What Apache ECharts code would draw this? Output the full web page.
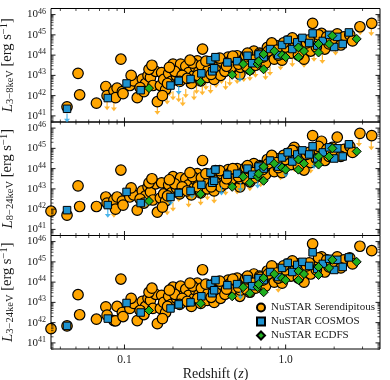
<!DOCTYPE html>
<html>
<head>
<meta charset="utf-8">
<script src="https://cdn.jsdelivr.net/npm/echarts@6/dist/echarts.min.js"></script>
<style>
  html, body { margin: 0; padding: 0; background: #fff; }
  #chart { width: 390px; height: 380px; }
</style>
</head>
<body>
<div id="chart"></div>
<script>
// ---- data (redshift, log10 luminosity per band) ----
const serZ = [0.035,0.044,0.0515,0.0527,0.067,0.0766,0.078,0.086,0.090,0.088,0.097,0.098,0.095,
  0.108,0.114,0.12,0.129,0.135,0.14,0.145,0.15,0.156,0.16,0.167,0.17,0.175,0.18,0.188,0.195,
  0.2,0.21,0.215,0.223,0.234,0.24,0.25,0.26,0.27,0.276,0.283,0.29,0.297,0.305,0.31,0.318,0.327,
  0.34,0.35,0.36,0.367,0.38,0.395,0.413,0.42,0.44,0.455,0.476,0.48,0.5,0.52,0.524,0.55,0.565,
  0.59,0.6,0.62,0.635,0.65,0.67,0.69,0.7,0.75,0.77,0.8,0.85,0.87,0.92,0.95,1.03,1.08,1.13,1.18,
  1.25,1.3,1.43,1.47,1.57,1.67,1.75,1.86,1.95,2.04,2.09,2.3,2.89,3.42,
  0.125,0.142,0.185,0.205,0.228,0.265,0.3,0.33,0.4,0.46,0.58,0.72,0.82,0.9,1.0,1.2,1.35,1.55,2.2,2.5,
  0.11,0.132,0.148,0.172,0.19,0.22,0.245,0.255,0.285,0.32,0.345,0.39,0.43,0.47,0.51,0.57,0.63,
  0.78,0.88,0.97,1.1,1.4,1.6,1.8,2.6];
const serL_3_8 = [null,41.45,43.1,42.04,41.63,42.45,42.0,42.24,42.37,41.9,42.2,42.1,43.8,
  42.5,42.73,41.9,42.82,42.6,43.0,42.9,42.5,43.2,41.7,42.5,43.14,42.8,42.3,43.1,42.7,
  43.56,42.98,43.3,43.56,42.9,43.45,43.14,42.6,43.0,43.4,43.72,43.2,42.73,44.3,43.0,43.47,42.9,
  43.6,43.3,42.8,43.8,43.4,43.0,43.56,43.2,43.9,43.72,43.2,43.6,43.97,43.05,43.4,43.8,43.97,
  43.64,43.3,43.95,44.2,43.5,43.8,44.1,44.05,43.6,44.38,44.1,43.8,44.47,44.2,43.75,44.7,44.1,44.47,44.7,
  44.3,43.8,44.2,45.57,44.8,45.07,44.3,44.55,44.6,44.7,45.05,44.9,45.4,45.57,
  42.4,43.3,42.6,43.2,43.0,43.6,43.5,43.25,43.7,43.4,44.1,43.9,44.6,44.0,44.4,44.0,44.6,44.4,44.5,45.0,
  43.0,42.2,43.5,42.0,43.4,42.7,42.85,43.75,43.0,43.7,43.05,43.85,43.45,43.95,43.55,43.45,43.75,
  44.2,44.25,44.6,44.85,44.75,45.0,44.9,44.7];
const serL_8_24 = [41.9,41.7,43.15,42.13,42.13,42.6,42.3,42.45,42.6,42.0,42.4,42.2,43.93,
  42.6,42.7,41.95,42.9,42.65,43.1,42.85,42.45,43.25,41.85,42.55,43.3,42.75,42.4,43.2,42.8,
  43.6,43.05,43.35,43.55,42.95,43.5,43.2,42.7,43.05,43.45,43.75,43.3,42.8,44.4,43.1,43.55,43.0,
  43.65,43.35,42.9,43.9,43.45,43.1,43.6,43.25,43.95,43.8,43.3,43.6,44.0,43.1,43.5,43.85,44.05,
  43.7,43.35,44.0,44.25,43.55,43.85,44.15,44.1,43.7,44.45,44.15,43.85,44.5,44.25,43.8,44.75,44.2,45.05,44.8,
  44.35,43.93,44.3,45.63,44.85,45.35,44.4,44.6,45.05,44.75,45.55,44.95,45.74,45.63,
  42.5,43.3,42.65,43.25,43.1,43.6,43.55,43.3,43.75,43.45,44.15,43.95,44.65,44.05,44.45,44.1,44.7,44.5,44.6,45.1,
  43.05,42.3,43.5,42.1,43.45,42.75,42.9,43.8,43.1,43.75,43.1,43.9,43.5,44.0,43.6,43.5,43.8,
  44.25,44.3,44.65,44.9,44.8,45.1,44.95,44.8];
const serL_3_24 = [41.7,41.84,43.38,42.39,42.17,42.78,42.37,42.1,42.8,42.09,42.5,42.3,44.15,
  42.7,42.95,42.1,43.05,42.8,43.2,43.1,42.7,43.4,41.95,42.7,43.35,43.0,42.5,43.3,42.9,
  43.75,43.2,43.5,43.8,43.1,43.65,43.35,42.8,43.2,43.6,43.95,43.4,42.95,44.61,43.25,43.7,43.1,
  43.8,43.5,43.0,44.0,43.6,43.2,43.8,43.4,44.1,43.95,43.45,43.8,44.2,43.3,43.6,44.0,44.2,
  43.85,43.5,44.15,44.4,43.7,44.0,44.3,44.25,43.8,44.55,44.3,44.0,44.65,44.4,43.95,44.9,44.3,44.65,44.9,
  44.5,44.0,44.4,45.89,45.0,45.25,44.5,44.75,44.9,44.9,45.25,45.1,45.77,45.55,
  42.6,43.5,42.8,43.4,43.2,43.8,43.7,43.45,43.9,43.6,44.3,44.1,44.8,44.2,44.6,44.2,44.8,44.6,44.7,45.2,
  43.2,42.4,43.7,42.2,43.6,42.9,43.05,43.95,43.2,43.9,43.25,44.05,43.65,44.15,43.75,43.65,43.95,
  44.4,44.45,44.8,45.05,44.95,45.2,45.1,44.9];

const cosZ = [0.044,0.0788,0.103,0.126,0.193,0.217,0.257,0.3,0.342,0.35,0.36,0.367,0.435,0.5,0.58,
  0.62,0.68,0.73,0.8,0.9,0.95,1.03,1.1,1.18,1.27,1.4,1.47,1.57,1.7,1.86,2.0,2.09,2.26,2.47];
const cosL_3_8 = [41.35,41.88,42.6,42.27,42.5,42.73,42.82,43.1,43.75,43.2,43.35,43.9,43.64,43.7,43.97,
  43.6,44.03,43.9,44.3,44.0,44.5,44.75,44.3,44.63,44.85,44.6,45.07,44.47,44.7,45.0,44.4,44.9,44.55,45.12];
const cosL_8_24 = [41.95,42.2,42.85,42.3,42.6,42.8,42.9,43.2,43.8,43.3,43.4,43.95,43.7,43.75,44.0,
  43.7,44.1,44.0,44.4,44.1,44.55,44.8,44.35,44.7,44.9,44.7,45.1,44.5,44.8,45.05,44.5,45.0,44.6,45.2];
const cosL_3_24 = [41.84,42.2,42.97,42.5,42.7,42.9,43.0,43.3,43.9,43.45,43.6,44.1,43.85,43.9,44.15,
  43.8,44.2,44.1,44.5,44.25,44.7,44.95,44.5,44.85,45.0,44.8,45.47,44.65,44.9,45.15,44.6,45.1,44.75,45.22];

const ecdfsZ = [0.142,0.297,0.466,0.545,0.6,0.67,0.68,0.73,0.73,0.85,0.95,1.0,1.2,1.2,1.3,1.6,1.6,1.86,1.95,2.76];
const ecdfsL_3_8 = [42.37,42.68,43.03,43.56,43.2,43.56,43.7,44.05,43.3,44.2,44.0,43.9,44.38,43.9,44.2,44.55,44.13,44.55,44.96,44.8];
const ecdfsL_8_24 = [42.4,42.75,43.1,43.6,43.3,43.6,43.75,44.1,43.4,44.25,44.05,43.95,44.45,43.95,44.25,44.6,44.2,44.6,45.0,44.85];
const ecdfsL_3_24 = [42.6,42.95,43.3,43.75,43.45,43.75,43.9,44.2,43.5,44.4,44.2,44.1,44.55,44.1,44.4,44.75,44.35,44.7,45.1,45.0];

// upper limits (orange = serendipitous, blue = COSMOS)
const serLimZ_3_8 = [0.078,0.086,0.16,0.165,0.184,0.19,0.2,0.217,0.24,0.257,0.28,0.304,0.342,0.37,0.424,
  0.45,0.5,0.55,0.65,0.7,0.8,0.93,1.1,1.3,1.5,1.69,2.04,2.9,3.4,0.23,0.27,0.32,0.4,0.6,0.75];
const serLimL_3_8 = [41.5,41.45,41.28,41.9,41.78,42.2,42.0,41.9,42.1,42.57,42.3,42.24,42.32,42.6,42.5,
  42.7,42.8,42.9,43.1,43.4,43.2,43.47,43.64,43.6,43.9,43.8,44.2,45.2,45.17,41.7,42.0,42.5,42.8,42.95,43.0];
const serLimZ_8_24 = [0.086,0.184,0.2,0.217,0.25,0.297,0.327,0.36,0.424,0.5,0.6,0.7,0.81,0.93,1.13,1.43,
  1.6,1.9,2.1,2.4,2.85,3.4];
const serLimL_8_24 = [41.8,41.92,42.1,42.57,42.3,42.4,42.66,42.5,42.9,42.95,43.1,43.3,43.8,43.65,44.06,43.98,
  44.4,44.5,44.6,44.8,45.3,45.13];
const serLimZ_3_24 = [0.16,0.9];
const serLimL_3_24 = [42.04,43.7];
const cosLimZ_3_8 = [0.044,0.217,0.52,1.2];
const cosLimL_3_8 = [40.9,42.27,42.9,43.9];
const cosLimZ_8_24 = [0.0788,0.135,0.193,0.263,0.4,0.525,0.67,1.0,1.5];
const cosLimL_8_24 = [41.8,42.33,42.4,42.74,42.9,43.07,43.24,43.8,44.2];
const cosLimZ_3_24 = [0.524];
const cosLimL_3_24 = [43.36];

const bandNames = ['3\u22128keV', '8\u221224keV', '3\u221224keV'];
const xMajorTicks = [0.1, 1];
const xMinorTicks = [0.04,0.05,0.06,0.07,0.08,0.09,0.2,0.3,0.4,0.5,0.6,0.7,0.8,0.9,2,3];
const yMajorTicks = [1e41,1e42,1e43,1e44,1e45,1e46];
const yMinorMult = [2,3,4,5,6,7,8,9];

const xMin = 0.035, xMax = 3.85, yMin = 5e40, yMax = 2e46;

// ---- chart ----
const FONT = 'Liberation Serif';
const TXT = '#1a1a1a';
const ORANGE = '#FFA500', BLUE = '#1E93D0', GREEN = '#1FAE1F', LBLUE = '#1EA3E6';
const ARROW = 'path://M3.2,0 L4.8,0 L4.8,7 L8,7 L4,12 L0,7 L3.2,7 Z';

const chart = echarts.init(document.getElementById('chart'));

function pts(zs, ls) {
  const out = [];
  zs.forEach((z, i) => { if (ls[i] != null) out.push([z, Math.pow(10, ls[i])]); });
  return out;
}

const yMinor = [];
[1e40, 1e41, 1e42, 1e43, 1e44, 1e45, 1e46].forEach(d => {
  yMinorMult.forEach(m => { const v = d * m; if (v > yMin * 0.999 && v < yMax * 0.999) yMinor.push(v); });
});

function tickSeries(p, vals, dir, major) {
  return {
    type: 'custom', xAxisIndex: p, yAxisIndex: p, silent: true, z: 10,
    data: vals.map(v => dir === 'x' ? [v, yMin] : [xMin, v]),
    renderItem: function (params, api) {
      const cs = params.coordSys;
      const pt = api.coord([api.value(0), api.value(1)]);
      const len = major ? 4.5 : 2.5;
      const st = { stroke: '#000', lineWidth: major ? 0.9 : 0.7 };
      if (dir === 'x') {
        const x = pt[0];
        return { type: 'group', children: [
          { type: 'line', shape: { x1: x, y1: cs.y + cs.height, x2: x, y2: cs.y + cs.height - len }, style: st },
          { type: 'line', shape: { x1: x, y1: cs.y, x2: x, y2: cs.y + len }, style: st }
        ] };
      }
      const y = pt[1];
      return { type: 'group', children: [
        { type: 'line', shape: { x1: cs.x, y1: y, x2: cs.x + len, y2: y }, style: st },
        { type: 'line', shape: { x1: cs.x + cs.width, y1: y, x2: cs.x + cs.width - len, y2: y }, style: st }
      ] };
    }
  };
}

const panels = [
  { ser: serL_3_8, cos: cosL_3_8, ecd: ecdfsL_3_8, slz: serLimZ_3_8, sll: serLimL_3_8, clz: cosLimZ_3_8, cll: cosLimL_3_8 },
  { ser: serL_8_24, cos: cosL_8_24, ecd: ecdfsL_8_24, slz: serLimZ_8_24, sll: serLimL_8_24, clz: cosLimZ_8_24, cll: cosLimL_8_24 },
  { ser: serL_3_24, cos: cosL_3_24, ecd: ecdfsL_3_24, slz: serLimZ_3_24, sll: serLimL_3_24, clz: cosLimZ_3_24, cll: cosLimL_3_24 }
];

const tops = [8.5, 122, 235.5];
const grid = [], xAxis = [], yAxis = [], series = [];

panels.forEach((pd, p) => {
  grid.push({ left: 51, right: 10, top: tops[p], height: 113.5, show: true,
    outerBoundsMode: 'none', containLabel: false,
    borderColor: '#000', borderWidth: 1, backgroundColor: 'transparent' });
  xAxis.push({
    type: 'log', gridIndex: p, min: xMin, max: xMax, logBase: 10,
    axisLine: { show: false }, axisTick: { show: false }, splitLine: { show: false },
    axisLabel: {
      show: p === 2, showMinLabel: false, showMaxLabel: false, margin: 5,
      fontFamily: FONT, fontSize: 11.5, color: TXT,
      formatter: v => Math.abs(Math.log10(v) + 1) < 0.01 ? '0.1' : (Math.abs(Math.log10(v)) < 0.01 ? '1.0' : '')
    },
    name: p === 2 ? 'Redshift ({i|z})' : '', nameLocation: 'middle', nameGap: 14,
    nameTextStyle: { fontFamily: FONT, fontSize: 14, color: TXT, verticalAlign: 'top',
      rich: { i: { fontFamily: FONT, fontStyle: 'italic', fontSize: 14, color: TXT } } }
  });
  yAxis.push({
    type: 'log', gridIndex: p, min: yMin, max: yMax, logBase: 10,
    axisLine: { show: false }, axisTick: { show: false }, splitLine: { show: false },
    axisLabel: {
      showMinLabel: false, showMaxLabel: false, margin: 5,
      formatter: v => '{b|10}{s|' + Math.round(Math.log10(v)) + '}',
      rich: {
        b: { fontFamily: FONT, fontSize: 11, color: TXT, lineHeight: 14 },
        s: { fontFamily: FONT, fontSize: 8, color: TXT, verticalAlign: 'top', lineHeight: 9 }
      }
    },
    name: '{i|L}{sub|' + bandNames[p] + '} [erg s{sup|\u22121}]',
    nameLocation: 'middle', nameRotate: 90, nameGap: 29,
    nameTextStyle: {
      fontFamily: FONT, fontSize: 14.5, color: TXT,
      rich: {
        i: { fontFamily: FONT, fontStyle: 'italic', fontSize: 15, color: TXT, lineHeight: 17 },
        sub: { fontFamily: FONT, fontSize: 10.5, color: TXT, verticalAlign: 'bottom', lineHeight: 11 },
        sup: { fontFamily: FONT, fontSize: 10.5, color: TXT, verticalAlign: 'top', lineHeight: 11 }
      }
    }
  });

  series.push({
    name: 'serLim' + p, type: 'scatter', xAxisIndex: p, yAxisIndex: p, z: 2,
    symbol: ARROW, symbolSize: [6, 9], itemStyle: { color: ORANGE }, data: pts(pd.slz, pd.sll)
  });
  series.push({
    name: 'NuSTAR Serendipitous', type: 'scatter', xAxisIndex: p, yAxisIndex: p, z: 3,
    symbol: 'circle', symbolSize: 10.5,
    itemStyle: { color: ORANGE, borderColor: '#000', borderWidth: 1.2, opacity: 1 },
    data: pts(serZ, pd.ser)
  });
  series.push({
    name: 'cosLim' + p, type: 'scatter', xAxisIndex: p, yAxisIndex: p, z: 4,
    symbol: ARROW, symbolSize: [6, 9], itemStyle: { color: LBLUE }, data: pts(pd.clz, pd.cll)
  });
  series.push({
    name: 'NuSTAR COSMOS', type: 'scatter', xAxisIndex: p, yAxisIndex: p, z: 5,
    symbol: 'rect', symbolSize: 7.5,
    itemStyle: { color: BLUE, borderColor: '#000', borderWidth: 1, opacity: 1 },
    data: pts(cosZ, pd.cos)
  });
  series.push({
    name: 'NuSTAR ECDFS', type: 'scatter', xAxisIndex: p, yAxisIndex: p, z: 6,
    symbol: 'diamond', symbolSize: 9,
    itemStyle: { color: GREEN, borderColor: '#000', borderWidth: 1, opacity: 1 },
    data: pts(ecdfsZ, pd.ecd)
  });

  series.push(tickSeries(p, xMajorTicks, 'x', true));
  series.push(tickSeries(p, xMinorTicks, 'x', false));
  series.push(tickSeries(p, yMajorTicks, 'y', true));
  series.push(tickSeries(p, yMinor, 'y', false));
});

chart.setOption({
  animation: false,
  backgroundColor: '#fff',
  grid: grid,
  xAxis: xAxis,
  yAxis: yAxis,
  legend: {
    data: [
      { name: 'NuSTAR Serendipitous', icon: 'circle' },
      { name: 'NuSTAR COSMOS', icon: 'rect' },
      { name: 'NuSTAR ECDFS', icon: 'diamond' }
    ],
    orient: 'vertical', left: 251, top: 297, itemGap: 3,
    itemWidth: 8, itemHeight: 8,
    textStyle: { fontFamily: FONT, fontSize: 11, color: TXT, padding: [0, 0, 0, 1] },
    selectedMode: false
  },
  series: series
});
</script>
</body>
</html>
